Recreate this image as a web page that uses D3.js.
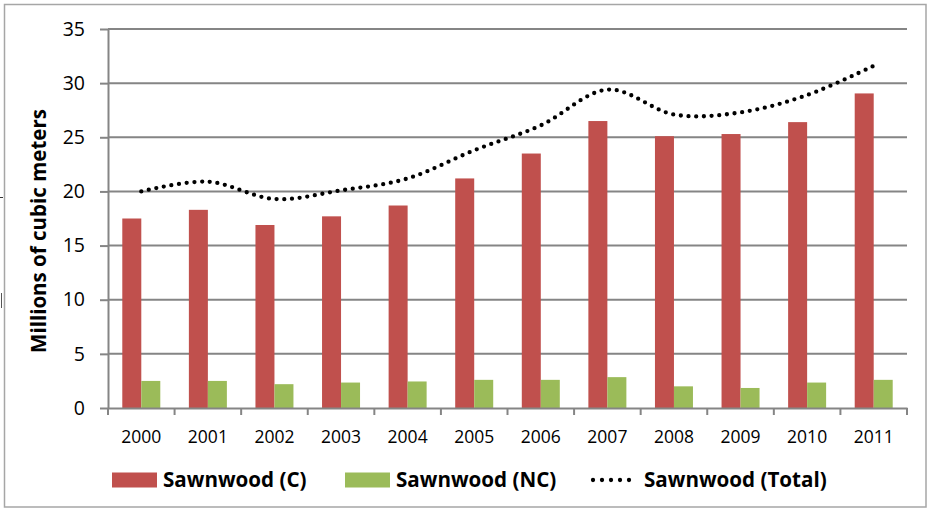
<!DOCTYPE html>
<html>
<head>
<meta charset="utf-8">
<script src="https://cdn.jsdelivr.net/npm/d3@7"></script>
<style>
  body { margin: 0; background: #fff; }
  svg text { font-family: "Open Sans", "Liberation Sans", sans-serif; fill: #000; }
</style>
</head>
<body>
<svg id="chart" width="931" height="510"></svg>
<script>
// data
const years = ['2000','2001','2002','2003','2004','2005','2006','2007','2008','2009','2010','2011'];
const sawnC = [17.5, 18.3, 16.9, 17.7, 18.7, 21.2, 23.5, 26.5, 25.1, 25.3, 26.4, 29.05];
const sawnNC = [2.5, 2.5, 2.2, 2.35, 2.45, 2.6, 2.6, 2.85, 2.0, 1.85, 2.35, 2.6];
const sawnTotal = [20.0, 20.9, 19.3, 20.1, 21.2, 23.8, 26.1, 29.4, 27.1, 27.3, 28.9, 31.6];
const yTicks = [0, 5, 10, 15, 20, 25, 30, 35];
const seriesNames = ['Sawnwood (C)', 'Sawnwood (NC)', 'Sawnwood (Total)'];
const colors = ['#c0504d', '#9bbb59', '#000'];

const margin = { top: 29, right: 24, bottom: 102, left: 108 };
const width = 931 - margin.left - margin.right;
const height = 510 - margin.top - margin.bottom;
const gridColor = '#858585';

const svg = d3.select('#chart');

// outer frame
svg.append('rect')
  .attr('x', 4.5).attr('y', 4.5)
  .attr('width', 921.5).attr('height', 502.5)
  .attr('fill', 'none')
  .attr('stroke', '#a6a6a6')
  .attr('stroke-width', 1.5);

// leftover slivers at the left edge
svg.append('path').attr('d', 'M0,197.5H3').attr('stroke', '#333').attr('stroke-width', 1);
svg.append('path').attr('d', 'M1.5,293V308').attr('stroke', '#555').attr('stroke-width', 1);

const g = svg.append('g')
  .attr('transform', `translate(${margin.left},${margin.top})`);

const x = d3.scaleBand().domain(years).range([0, width]).padding(0);
const bw = x.bandwidth();
const x1 = d3.scaleBand().domain([0, 1]).range([bw / 2 - 19, bw / 2 + 19]);
const y = d3.scaleLinear().domain([0, 35]).range([height, 0]);

// gridlines
g.append('g')
  .selectAll('line')
  .data(yTicks.filter(d => d > 0))
  .join('line')
  .attr('x1', 0).attr('x2', width)
  .attr('y1', d => y(d)).attr('y2', d => y(d))
  .attr('stroke', gridColor)
  .attr('stroke-width', 2);

// y axis
const yAxis = d3.axisLeft(y).tickValues(yTicks).tickSize(8).tickPadding(15).tickSizeOuter(0);
const yAxisG = g.append('g').call(yAxis);
yAxisG.select('.domain').attr('stroke', gridColor).attr('stroke-width', 2);
yAxisG.selectAll('.tick line').attr('stroke', gridColor).attr('stroke-width', 2);
yAxisG.selectAll('.tick text')
  .attr('font-size', 19.5)
  .attr('font-family', '"Open Sans", sans-serif')
  .attr('fill', '#000');

// bars
const barSeries = [sawnC, sawnNC];
barSeries.forEach((vals, si) => {
  g.append('g')
    .selectAll('rect')
    .data(vals)
    .join('rect')
    .attr('x', (d, i) => x(years[i]) + x1(si))
    .attr('y', d => y(d))
    .attr('width', x1.bandwidth())
    .attr('height', d => y(0) - y(d))
    .attr('fill', colors[si]);
});

// x axis
const xAxis = d3.axisBottom(x).tickSize(0).tickPadding(23).tickSizeOuter(0);
const xAxisG = g.append('g').attr('transform', `translate(0,${height})`).call(xAxis);
xAxisG.select('.domain').attr('stroke', gridColor).attr('stroke-width', 2);
xAxisG.selectAll('.tick text')
  .attr('font-size', 17.5)
  .attr('font-family', '"Open Sans", sans-serif')
  .attr('fill', '#000');
// tick marks between categories
xAxisG.append('g')
  .selectAll('line')
  .data(years.concat(['end']))
  .join('line')
  .attr('x1', (d, i) => i * bw).attr('x2', (d, i) => i * bw)
  .attr('y1', 0).attr('y2', 7)
  .attr('stroke', gridColor)
  .attr('stroke-width', 2);

// total line, smoothed and dotted
const line = d3.line()
  .x((d, i) => x(years[i]) + bw / 2)
  .y(d => y(d))
  .curve(d3.curveCardinal.tension(0));

g.append('path')
  .datum(sawnTotal)
  .attr('d', line)
  .attr('fill', 'none')
  .attr('stroke', '#000')
  .attr('stroke-width', 4.3)
  .attr('stroke-linecap', 'round')
  .attr('stroke-dasharray', '0 7.7');

// y axis title
svg.append('text')
  .attr('transform', 'translate(46,231) rotate(-90)')
  .attr('text-anchor', 'middle')
  .attr('font-size', 20.5)
  .attr('font-weight', 'bold')
  .text('Millions of cubic meters');

// legend
const legend = svg.append('g');
const legendItems = [
  { name: seriesNames[0], color: colors[0], x: 112, type: 'rect' },
  { name: seriesNames[1], color: colors[1], x: 345, type: 'rect' },
  { name: seriesNames[2], color: colors[2], x: 593, type: 'line' }
];
legendItems.forEach(it => {
  if (it.type === 'rect') {
    legend.append('rect')
      .attr('x', it.x).attr('y', 472.5)
      .attr('width', 45).attr('height', 15)
      .attr('fill', it.color);
  } else {
    legend.append('line')
      .attr('x1', it.x).attr('x2', it.x + 45)
      .attr('y1', 480).attr('y2', 480)
      .attr('stroke', it.color)
      .attr('stroke-width', 4.3)
      .attr('stroke-linecap', 'round')
      .attr('stroke-dasharray', '0 9');
  }
  legend.append('text')
    .attr('x', it.x + 51)
    .attr('y', 487)
    .attr('font-size', 20.6)
    .attr('font-weight', 'bold')
    .text(it.name);
});
</script>
</body>
</html>
